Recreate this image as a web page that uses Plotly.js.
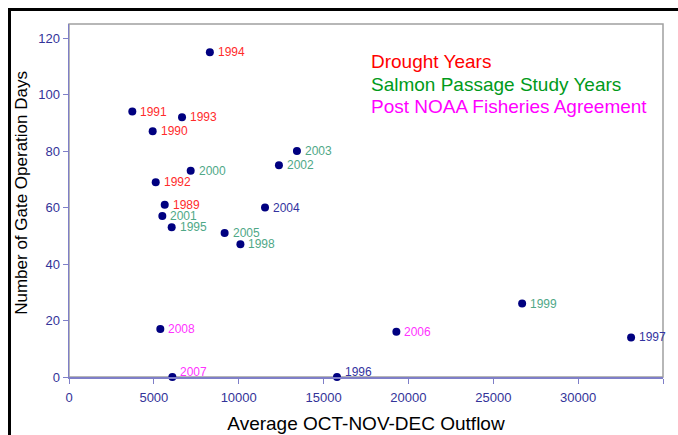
<!DOCTYPE html>
<html><head><meta charset="utf-8">
<script src="https://cdn.plot.ly/plotly-3.0.1.min.js"></script>
<style>
html,body{margin:0;padding:0;background:#fff;overflow:hidden}
#chart{position:absolute;left:0;top:0;width:678px;height:435px}
#frame{position:absolute;left:8px;top:8px;width:700px;height:460px;border-top:3px solid #000;border-left:3px solid #000;pointer-events:none;z-index:10}
</style></head><body>
<div id="chart"></div><div id="frame"></div>
<script>
const years = ["1994","1991","1993","1990","2003","2002","2000","1992","1989","2004","2001","1995","2005","1998","2008","2007","1996","1999","2006","1997"];
const outflow = [8300,3730,6660,4930,13430,12370,7170,5110,5640,11550,5500,6050,9170,10100,5380,6090,15790,26700,19290,33120];
const gateDays = [115,94,92,87,80,75,73,69,61,60,57,53,51,47,17,0,0,26,16,14];
const groups = ["drought","drought","drought","drought","salmon","salmon","salmon","drought","drought","other","salmon","salmon","salmon","salmon","noaa","noaa","other","salmon","noaa","other"];
const legendLines = ["Drought Years","Salmon Passage Study Years","Post NOAA Fisheries Agreement"];
const legendColors = ["#ff0000","#009a1a","#ff00ff"];
const xTitle = "Average OCT-NOV-DEC Outflow";
const yTitle = "Number of Gate Operation Days";

const FONT = "Arial, Liberation Sans, sans-serif";
const labelColor = {drought:"#ff2b2b", salmon:"#4fa887", noaa:"#ff33ff", other:"#3333a0"};

const trace = {
  x: outflow, y: gateDays, type: "scatter", mode: "markers",
  marker: {color:"#000080", size:8},
  cliponaxis: false, hoverinfo: "none"
};

const axisBlue = "#7f7fc8";
const tickFont = {family:FONT, size:13, color:"#333399"};

const pointLabels = years.map((t,i)=>({
  text:t, x:outflow[i], y:gateDays[i], xref:"x", yref:"y",
  xanchor:"left", yanchor:"middle", showarrow:false,
  xshift: 6, yshift: (gateDays[i]===0 ? 5 : 0),
  font:{family:FONT, size:12, color:labelColor[groups[i]]}
}));

const legendAnn = legendLines.map((t,i)=>({
  text:t, xref:"paper", yref:"paper", x:0.505, y:[0.893,0.828,0.766][i],
  xanchor:"left", yanchor:"middle", showarrow:false,
  font:{family:FONT, size:19, color:legendColors[i]}
}));

const yTitleAnn = {
  text:yTitle, xref:"paper", yref:"paper", x:-0.079, y:0.522,
  xanchor:"center", yanchor:"middle", textangle:-90, showarrow:false,
  font:{family:FONT, size:17, color:"#000"}
};

const layout = {
  width:678, height:435,
  margin:{l:69, r:15, t:24, b:58},
  paper_bgcolor:"#fff", plot_bgcolor:"#fff",
  showlegend:false,
  xaxis:{range:[0,35000], dtick:5000, tick0:0, showgrid:false, zeroline:false,
    showline:true, linecolor:axisBlue, linewidth:1.5, ticks:"outside", ticklen:5, tickcolor:axisBlue,
    tickfont:tickFont, tickformat:"d", ticklabelstandoff:3,
    title:{text:xTitle, font:{family:FONT, size:19, color:"#000"}, standoff:12}},
  yaxis:{range:[0,125], dtick:20, tick0:0, showgrid:false, zeroline:false,
    showline:true, linecolor:axisBlue, linewidth:1.5, ticks:"outside", ticklen:5, tickcolor:axisBlue,
    tickfont:tickFont},
  shapes:[{type:"rect", xref:"paper", yref:"paper", x0:0, x1:1, y0:0, y1:1, line:{color:"#a0a0a0", width:1.5}, layer:"below"}],
  annotations: pointLabels.concat(legendAnn, [yTitleAnn])
};

Plotly.newPlot("chart", [trace], layout, {displayModeBar:false, staticPlot:true});
</script></body></html>
